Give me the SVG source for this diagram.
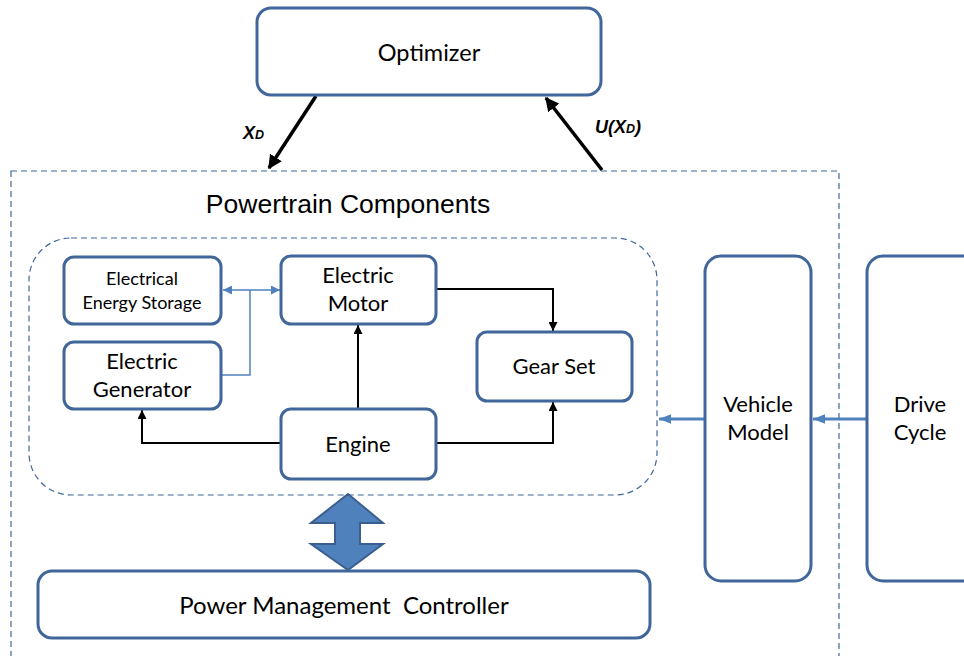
<svg xmlns="http://www.w3.org/2000/svg" width="964" height="656" viewBox="0 0 964 656">
  <defs>
    <style>
      .box { fill: #ffffff; stroke: #41669A; stroke-width: 3; }
      .dash { fill: none; stroke: #41669A; stroke-width: 1.2; stroke-dasharray: 6 4; }
      .lbl { font-family: Lato, "Open Sans", "Liberation Sans", sans-serif; fill: #000000; text-anchor: middle; }
      .title { font-family: "Liberation Sans", Arial, sans-serif; fill: #000000; text-anchor: middle; }
      .wire { fill: none; stroke: #000000; stroke-width: 2; }
      .blue { fill: none; stroke: #4F81BD; stroke-width: 1.5; }
      .bluebig { fill: none; stroke: #4F81BD; stroke-width: 3; }
      .sig { fill: none; stroke: #000000; stroke-width: 3.5; }
      .math { font-family: "Liberation Sans", Arial, sans-serif; font-weight: bold; font-style: italic; fill: #000000; }
    </style>
    <marker id="ah" viewBox="0 0 10 10" refX="10" refY="5" markerWidth="9" markerHeight="9" markerUnits="userSpaceOnUse" orient="auto">
      <path d="M0,0 L10,5 L0,10 z" fill="#000000"/>
    </marker>
    <marker id="ahb" viewBox="0 0 10 10" refX="10" refY="5" markerWidth="9" markerHeight="9" markerUnits="userSpaceOnUse" orient="auto">
      <path d="M0,0 L10,5 L0,10 z" fill="#4F81BD"/>
    </marker>
    <marker id="ahbig" viewBox="0 0 10 10" refX="10" refY="5" markerWidth="12" markerHeight="12" markerUnits="userSpaceOnUse" orient="auto">
      <path d="M0,1 L10,5 L0,9 z" fill="#4F81BD"/>
    </marker>
    <marker id="ahsig" viewBox="0 0 10 10" refX="9" refY="5" markerWidth="14" markerHeight="14" markerUnits="userSpaceOnUse" orient="auto">
      <path d="M0,0 L10,5 L0,10 z" fill="#000000"/>
    </marker>
  </defs>

  <rect width="964" height="656" fill="#ffffff"/>

  <!-- boundaries -->
  <rect id="powertrain-boundary" class="dash" x="11" y="171" width="828" height="500"/>
  <rect id="components-boundary" class="dash" x="29" y="238" width="628" height="257" rx="42"/>
  <text class="title" x="348" y="213" font-size="26.5">Powertrain Components</text>

  <!-- connectors -->
  <g id="connectors">
    <line class="sig" x1="316" y1="96" x2="269" y2="168" marker-end="url(#ahsig)"/>
    <line class="sig" x1="602" y1="170" x2="546" y2="98" marker-end="url(#ahsig)"/>
    <path class="blue" d="M250,290 H223" marker-end="url(#ahb)"/>
    <path class="blue" d="M250,290 H280" marker-end="url(#ahb)"/>
    <path class="blue" d="M221,375 H250 V290"/>
    <path class="wire" d="M436,289 H553 V331" marker-end="url(#ah)"/>
    <path class="wire" d="M358,409 V325" marker-end="url(#ah)"/>
    <path class="wire" d="M436,443 H553 V402" marker-end="url(#ah)"/>
    <path class="wire" d="M281,443 H142 V410" marker-end="url(#ah)"/>
    <path class="bluebig" d="M705,419 H659" marker-end="url(#ahbig)"/>
    <path class="bluebig" d="M867,419 H813" marker-end="url(#ahbig)"/>
    <polygon points="348,494 383,523 360,523 360,544 383,544 348,570 311,544 335,544 335,523 311,523" fill="#4F81BD" stroke="#3A5E8E" stroke-width="2" stroke-linejoin="miter"/>
  </g>
  <text class="math" x="243" y="139" font-size="18">X<tspan font-size="12.5">D</tspan></text>
  <text class="math" x="595" y="133" font-size="18">U(X<tspan font-size="12.5">D</tspan>)</text>

  <!-- nodes -->
  <g id="optimizer">
    <rect class="box" x="257" y="8" width="344" height="87" rx="14"/>
    <text class="lbl" x="429" y="61" font-size="23.5">Optimizer</text>
  </g>
  <g id="energy-storage">
    <rect class="box" x="64" y="257" width="157" height="67" rx="10"/>
    <text class="lbl" x="142" y="285" font-size="18">Electrical</text>
    <text class="lbl" x="142" y="309" font-size="18">Energy Storage</text>
  </g>
  <g id="generator">
    <rect class="box" x="64" y="342" width="157" height="67" rx="10"/>
    <text class="lbl" x="142" y="369" font-size="22">Electric</text>
    <text class="lbl" x="142" y="397" font-size="22">Generator</text>
  </g>
  <g id="motor">
    <rect class="box" x="281" y="256" width="155" height="68" rx="10"/>
    <text class="lbl" x="358" y="283" font-size="22">Electric</text>
    <text class="lbl" x="358" y="311" font-size="22">Motor</text>
  </g>
  <g id="gear-set">
    <rect class="box" x="477" y="332" width="155" height="69" rx="10"/>
    <text class="lbl" x="554" y="374" font-size="22">Gear Set</text>
  </g>
  <g id="engine">
    <rect class="box" x="281" y="409" width="155" height="70" rx="10"/>
    <text class="lbl" x="358" y="452" font-size="22">Engine</text>
  </g>
  <g id="vehicle-model">
    <rect class="box" x="705" y="256" width="106" height="325" rx="16"/>
    <text class="lbl" x="758" y="412" font-size="22">Vehicle</text>
    <text class="lbl" x="758" y="440" font-size="22">Model</text>
  </g>
  <g id="drive-cycle">
    <rect class="box" x="867" y="256" width="120" height="325" rx="16"/>
    <text class="lbl" x="920" y="412" font-size="22">Drive</text>
    <text class="lbl" x="920" y="440" font-size="22">Cycle</text>
  </g>
  <g id="power-management">
    <rect class="box" x="38" y="571" width="612" height="67" rx="14"/>
    <text class="lbl" x="344" y="614" font-size="24">Power Management&#160; Controller</text>
  </g>
</svg>
